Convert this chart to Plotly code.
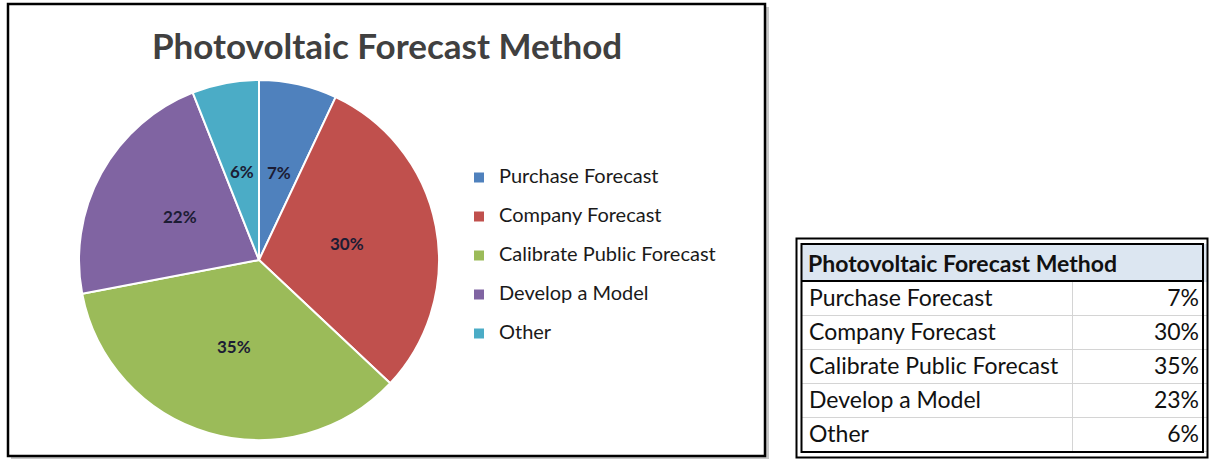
import math
import plotly.graph_objects as go

# ---- data ----
methods = ["Purchase Forecast", "Company Forecast", "Calibrate Public Forecast",
           "Develop a Model", "Other"]
pie_pct = [7, 30, 35, 22, 6]
table_pct = ["7%", "30%", "35%", "23%", "6%"]
colors = ["#4f81bd", "#c0504d", "#9bbb59", "#8064a2", "#4bacc6"]
title = "Photovoltaic Forecast Method"

W, H = 1209, 460
FONT = "Lato"

# pie geometry (pixels)
PIE_CX, PIE_CY, PIE_R = 259, 260, 180


def px(x):
    return x / W


def py(y):
    return 1 - y / H


fig = go.Figure()

# pie; legend entries carry an empty second line to get Excel-like spacing
legend_labels = [f"<span style='font-size:20px'>{m}</span><br> " for m in methods]
fig.add_trace(go.Pie(
    labels=legend_labels,
    values=pie_pct,
    sort=False,
    direction="clockwise",
    rotation=0,
    marker=dict(colors=colors, line=dict(color="white", width=2)),
    textinfo="none",
    domain=dict(x=[px(PIE_CX - PIE_R), px(PIE_CX + PIE_R)],
                y=[py(PIE_CY + PIE_R), py(PIE_CY - PIE_R)]),
    hoverinfo="skip",
))

# table on the right
fig.add_trace(go.Table(
    domain=dict(x=[px(801), px(1208)], y=[0, py(244)]),
    columnwidth=[272, 135],
    header=dict(values=["", ""], height=37,
                fill_color="#dce6f1", line=dict(color="#dce6f1", width=1)),
    cells=dict(values=[methods, table_pct], height=34,
               align=["left", "right"],
               fill_color="white",
               line=dict(color="#d4d4d4", width=1),
               font=dict(family=FONT, size=23, color="#111111")),
))

shapes = [
    # chart frame with a soft shadow
    dict(type="rect", xref="paper", yref="paper",
         x0=px(11), x1=px(769), y0=py(459), y1=py(7),
         line=dict(width=0), fillcolor="#c8c8c8", layer="below"),
    dict(type="rect", xref="paper", yref="paper",
         x0=px(8), x1=px(765), y0=py(456), y1=py(4),
         line=dict(color="black", width=2.5), fillcolor="white", layer="below"),
    # double border of the table
    dict(type="rect", xref="paper", yref="paper",
         x0=px(796.5), x1=px(1207.5), y0=py(457.5), y1=py(238.5),
         line=dict(color="black", width=2)),
    dict(type="rect", xref="paper", yref="paper",
         x0=px(801.5), x1=px(1203), y0=py(452), y1=py(244),
         line=dict(color="black", width=2)),
    dict(type="line", xref="paper", yref="paper",
         x0=px(801.5), x1=px(1203), y0=py(281), y1=py(281),
         line=dict(color="black", width=2)),
]

annotations = [
    dict(text=f"<b>{title}</b>", x=px(387), y=py(45), xref="paper", yref="paper",
         showarrow=False, xanchor="center", yanchor="middle",
         font=dict(family=FONT, size=35, color="#404040")),
    dict(text=f"<b>{title}</b>", x=px(806), y=py(263), xref="paper", yref="paper",
         showarrow=False, xanchor="left", yanchor="middle",
         font=dict(family=FONT, size=23, color="#111111")),
]

# percentage labels at half radius along each slice's bisector
total = sum(pie_pct)
cum = 0
for v in pie_pct:
    theta = 2 * math.pi * (cum + v / 2) / total
    cum += v
    lx = PIE_CX + 0.5 * PIE_R * math.sin(theta)
    ly = PIE_CY - 0.5 * PIE_R * math.cos(theta)
    annotations.append(dict(
        text=f"<b>{round(100 * v / total)}%</b>", x=px(lx), y=py(ly),
        xref="paper", yref="paper", showarrow=False,
        xanchor="center", yanchor="middle",
        font=dict(family=FONT, size=17, color="#1c1c34")))

fig.update_layout(
    width=W, height=H,
    margin=dict(l=0, r=0, t=0, b=0),
    paper_bgcolor="white",
    plot_bgcolor="white",
    shapes=shapes,
    annotations=annotations,
    showlegend=True,
    legend=dict(x=px(459), y=py(162), xanchor="left", yanchor="top",
                valign="top", bgcolor="rgba(0,0,0,0)",
                font=dict(family=FONT, size=13.85, color="#1a1a1a"),
                itemclick=False, itemdoubleclick=False),
)

fig.write_html("out.html")
